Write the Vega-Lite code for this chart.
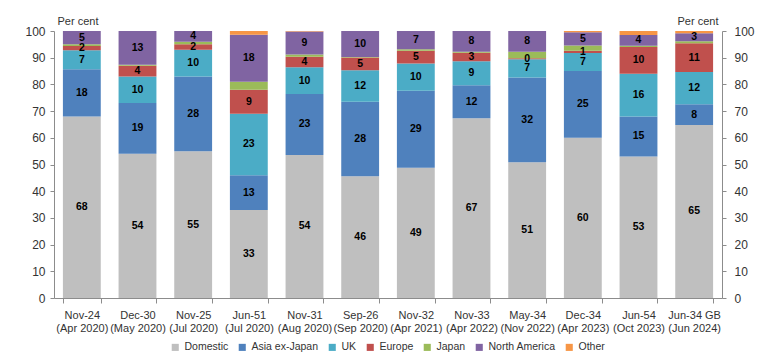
{
  "$schema": "https://vega.github.io/schema/vega-lite/v6.json",
  "width": 668,
  "height": 267,
  "autosize": "none",
  "padding": {"left": 54, "top": 31, "right": 46, "bottom": 64},
  "config": {"view": {"stroke": null}, "font": "Liberation Sans"},
  "data": {"values": [
    {"p": "Nov-24|(Apr 2020)", "r": "Domestic", "v": 68},
    {"p": "Nov-24|(Apr 2020)", "r": "Asia ex-Japan", "v": 17.7},
    {"p": "Nov-24|(Apr 2020)", "r": "UK", "v": 7.1},
    {"p": "Nov-24|(Apr 2020)", "r": "Europe", "v": 1.6},
    {"p": "Nov-24|(Apr 2020)", "r": "Japan", "v": 0.6},
    {"p": "Nov-24|(Apr 2020)", "r": "North America", "v": 5},
    {"p": "Dec-30|(May 2020)", "r": "Domestic", "v": 54},
    {"p": "Dec-30|(May 2020)", "r": "Asia ex-Japan", "v": 19},
    {"p": "Dec-30|(May 2020)", "r": "UK", "v": 10},
    {"p": "Dec-30|(May 2020)", "r": "Europe", "v": 4},
    {"p": "Dec-30|(May 2020)", "r": "Japan", "v": 0.4},
    {"p": "Dec-30|(May 2020)", "r": "North America", "v": 12.6},
    {"p": "Nov-25|(Jul 2020)", "r": "Domestic", "v": 55},
    {"p": "Nov-25|(Jul 2020)", "r": "Asia ex-Japan", "v": 28},
    {"p": "Nov-25|(Jul 2020)", "r": "UK", "v": 10},
    {"p": "Nov-25|(Jul 2020)", "r": "Europe", "v": 2},
    {"p": "Nov-25|(Jul 2020)", "r": "Japan", "v": 1},
    {"p": "Nov-25|(Jul 2020)", "r": "North America", "v": 4},
    {"p": "Jun-51|(Jul 2020)", "r": "Domestic", "v": 33},
    {"p": "Jun-51|(Jul 2020)", "r": "Asia ex-Japan", "v": 13},
    {"p": "Jun-51|(Jul 2020)", "r": "UK", "v": 23},
    {"p": "Jun-51|(Jul 2020)", "r": "Europe", "v": 9},
    {"p": "Jun-51|(Jul 2020)", "r": "Japan", "v": 3},
    {"p": "Jun-51|(Jul 2020)", "r": "North America", "v": 17.6},
    {"p": "Jun-51|(Jul 2020)", "r": "Other", "v": 1.4},
    {"p": "Nov-31|(Aug 2020)", "r": "Domestic", "v": 53.6},
    {"p": "Nov-31|(Aug 2020)", "r": "Asia ex-Japan", "v": 22.8},
    {"p": "Nov-31|(Aug 2020)", "r": "UK", "v": 10},
    {"p": "Nov-31|(Aug 2020)", "r": "Europe", "v": 4},
    {"p": "Nov-31|(Aug 2020)", "r": "Japan", "v": 0.8},
    {"p": "Nov-31|(Aug 2020)", "r": "North America", "v": 8.6},
    {"p": "Nov-31|(Aug 2020)", "r": "Other", "v": 0.2},
    {"p": "Sep-26|(Sep 2020)", "r": "Domestic", "v": 45.6},
    {"p": "Sep-26|(Sep 2020)", "r": "Asia ex-Japan", "v": 27.9},
    {"p": "Sep-26|(Sep 2020)", "r": "UK", "v": 11.8},
    {"p": "Sep-26|(Sep 2020)", "r": "Europe", "v": 4.8},
    {"p": "Sep-26|(Sep 2020)", "r": "Japan", "v": 0.2},
    {"p": "Sep-26|(Sep 2020)", "r": "North America", "v": 9.7},
    {"p": "Nov-32|(Apr 2021)", "r": "Domestic", "v": 48.8},
    {"p": "Nov-32|(Apr 2021)", "r": "Asia ex-Japan", "v": 28.8},
    {"p": "Nov-32|(Apr 2021)", "r": "UK", "v": 10.2},
    {"p": "Nov-32|(Apr 2021)", "r": "Europe", "v": 4.8},
    {"p": "Nov-32|(Apr 2021)", "r": "Japan", "v": 0.6},
    {"p": "Nov-32|(Apr 2021)", "r": "North America", "v": 6.8},
    {"p": "Nov-33|(Apr 2022)", "r": "Domestic", "v": 67.3},
    {"p": "Nov-33|(Apr 2022)", "r": "Asia ex-Japan", "v": 12.4},
    {"p": "Nov-33|(Apr 2022)", "r": "UK", "v": 9},
    {"p": "Nov-33|(Apr 2022)", "r": "Europe", "v": 3.2},
    {"p": "Nov-33|(Apr 2022)", "r": "Japan", "v": 0.3},
    {"p": "Nov-33|(Apr 2022)", "r": "North America", "v": 7.8},
    {"p": "May-34|(Nov 2022)", "r": "Domestic", "v": 50.8},
    {"p": "May-34|(Nov 2022)", "r": "Asia ex-Japan", "v": 31.8},
    {"p": "May-34|(Nov 2022)", "r": "UK", "v": 6.8},
    {"p": "May-34|(Nov 2022)", "r": "Europe", "v": 0.4},
    {"p": "May-34|(Nov 2022)", "r": "Japan", "v": 2.4},
    {"p": "May-34|(Nov 2022)", "r": "North America", "v": 7.8},
    {"p": "Dec-34|(Apr 2023)", "r": "Domestic", "v": 60},
    {"p": "Dec-34|(Apr 2023)", "r": "Asia ex-Japan", "v": 25},
    {"p": "Dec-34|(Apr 2023)", "r": "UK", "v": 6.8},
    {"p": "Dec-34|(Apr 2023)", "r": "Europe", "v": 0.8},
    {"p": "Dec-34|(Apr 2023)", "r": "Japan", "v": 2},
    {"p": "Dec-34|(Apr 2023)", "r": "North America", "v": 4.9},
    {"p": "Dec-34|(Apr 2023)", "r": "Other", "v": 0.5},
    {"p": "Jun-54|(Oct 2023)", "r": "Domestic", "v": 53},
    {"p": "Jun-54|(Oct 2023)", "r": "Asia ex-Japan", "v": 15},
    {"p": "Jun-54|(Oct 2023)", "r": "UK", "v": 16},
    {"p": "Jun-54|(Oct 2023)", "r": "Europe", "v": 10},
    {"p": "Jun-54|(Oct 2023)", "r": "Japan", "v": 0.5},
    {"p": "Jun-54|(Oct 2023)", "r": "North America", "v": 4},
    {"p": "Jun-54|(Oct 2023)", "r": "Other", "v": 1.5},
    {"p": "Jun-34 GB|(Jun 2024)", "r": "Domestic", "v": 64.8},
    {"p": "Jun-34 GB|(Jun 2024)", "r": "Asia ex-Japan", "v": 7.8},
    {"p": "Jun-34 GB|(Jun 2024)", "r": "UK", "v": 12},
    {"p": "Jun-34 GB|(Jun 2024)", "r": "Europe", "v": 10.8},
    {"p": "Jun-34 GB|(Jun 2024)", "r": "Japan", "v": 0.8},
    {"p": "Jun-34 GB|(Jun 2024)", "r": "North America", "v": 3},
    {"p": "Jun-34 GB|(Jun 2024)", "r": "Other", "v": 0.8}
  ]},
  "transform": [
    {"calculate": "indexof(['Domestic','Asia ex-Japan','UK','Europe','Japan','North America','Other'], datum.r)", "as": "o"},
    {"stack": "v", "groupby": ["p"], "sort": [{"field": "o", "order": "ascending"}], "as": ["v0", "v1"]},
    {"calculate": "(datum.v0 + datum.v1) / 2", "as": "mid"}
  ],
  "encoding": {
    "x": {
      "field": "p", "type": "nominal", "sort": null,
      "scale": {"paddingInner": 0.32, "paddingOuter": 0.16},
      "axis": {
        "title": null, "labelAngle": 0, "labelExpr": "isValid(datum.value) ? split(datum.value, '|') : ''",
        "labelFontSize": 11, "labelColor": "#333333", "labelLineHeight": 13.5,
        "labelPadding": 6, "tickBand": "extent", "tickSize": 5,
        "domainColor": "#8c8c8c", "tickColor": "#8c8c8c", "labelBaseline": "top"
      }
    }
  },
  "layer": [
    {
      "mark": {"type": "bar"},
      "encoding": {
        "y": {
          "field": "v0", "type": "quantitative",
          "scale": {"domain": [0, 100], "nice": false},
          "axis": {
            "orient": "left", "values": [0,10,20,30,40,50,60,70,80,90,100],
            "grid": false, "title": "Per cent", "titleAngle": 0,
            "titleAlign": "left", "titleBaseline": "alphabetic",
            "titleX": 3, "titleY": -7, "titleFontSize": 11, "titleFontWeight": "normal",
            "titleColor": "#333333", "labelFontSize": 12, "labelColor": "#333333",
            "labelPadding": 5, "tickSize": 4,
            "domainColor": "#8c8c8c", "tickColor": "#8c8c8c"
          }
        },
        "y2": {"field": "v1"},
        "color": {
          "field": "r", "type": "nominal",
          "scale": {
            "domain": ["Domestic", "Asia ex-Japan", "UK", "Europe", "Japan", "North America", "Other"],
            "range": ["#BFBFBF", "#4F81BD", "#4BACC6", "#C0504D", "#9BBB59", "#8064A2", "#F79646"]
          },
          "legend": {
            "title": null, "orient": "none", "direction": "horizontal",
            "legendX": 116, "legendY": 311, "symbolType": "square", "symbolSize": 50,
            "symbolStrokeWidth": 0, "labelFontSize": 10.5, "labelColor": "#333333",
            "labelOffset": 4, "columnPadding": 8
          }
        }
      }
    },
    {
      "transform": [{"filter": "datum.r != 'Japan' && datum.r != 'Other'"}],
      "mark": {"type": "text", "fontWeight": "bold", "fontSize": 10.5, "color": "#000000", "baseline": "middle"},
      "encoding": {
        "y": {"field": "mid", "type": "quantitative", "scale": {"domain": [0, 100], "nice": false}, "axis": null},
        "text": {"field": "v", "type": "quantitative", "format": ".0f"}
      }
    },
    {
      "mark": {"type": "text", "opacity": 0},
      "encoding": {
        "y": {
          "field": "mid", "type": "quantitative",
          "scale": {"domain": [0, 100], "nice": false},
          "axis": {
            "orient": "right", "values": [0,10,20,30,40,50,60,70,80,90,100],
            "grid": false, "title": "Per cent", "titleAngle": 0,
            "titleAlign": "right", "titleBaseline": "alphabetic",
            "titleX": -4, "titleY": -7, "titleFontSize": 11, "titleFontWeight": "normal",
            "titleColor": "#333333", "labelFontSize": 12, "labelColor": "#333333",
            "labelPadding": 8, "tickSize": 4,
            "domainColor": "#8c8c8c", "tickColor": "#8c8c8c"
          }
        },
        "text": {"value": "."}
      }
    }
  ],
  "resolve": {"scale": {"y": "independent"}}
}
